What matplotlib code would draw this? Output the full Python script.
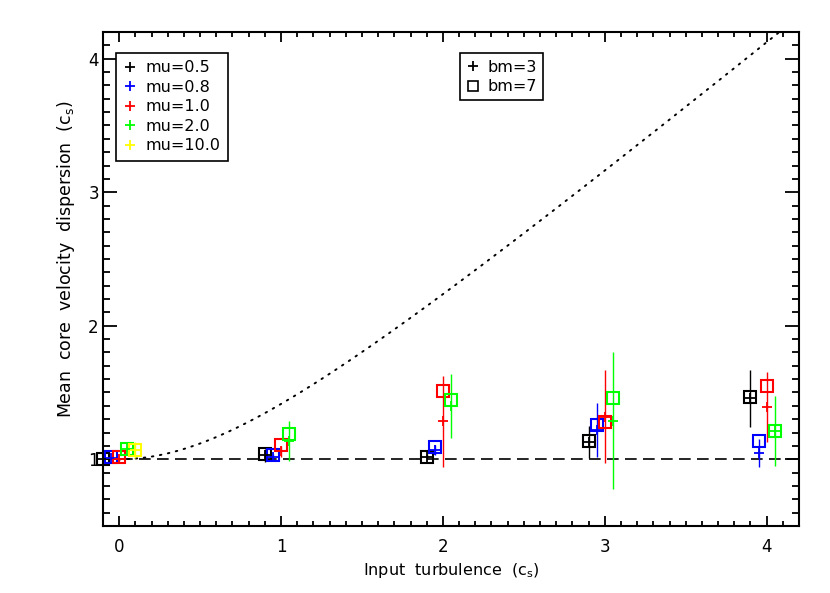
import numpy as np
import matplotlib
matplotlib.use("Agg")
import matplotlib.pyplot as plt
from matplotlib.lines import Line2D
from matplotlib.ticker import MultipleLocator

# input turbulence levels (c_s)
turb = [0, 1, 2, 3, 4]

mu_labels = ["mu=0.5", "mu=0.8", "mu=1.0", "mu=2.0", "mu=10.0"]
mu_colors = ["#000000", "#0000ff", "#ff0000", "#00ff00", "#ffff00"]
mu_shift = [-0.1, -0.05, 0.0, 0.05, 0.1]

# bm=3 runs (plus signs) with error bars
bm3_mean = [
    [1.00, 1.03, 1.02, 1.13, 1.455],   # mu=0.5
    [1.01, 1.02, 1.07, 1.22, 1.045],   # mu=0.8
    [1.00, 1.06, 1.285, 1.32, 1.39],   # mu=1.0
    [1.08, 1.14, 1.40, 1.29, 1.21],    # mu=2.0
    [1.07],                            # mu=10.0
]
bm3_err = [
    [0.01, 0.05, 0.02, 0.12, 0.215],
    [0.01, 0.02, 0.04, 0.20, 0.105],
    [0.01, 0.04, 0.34, 0.35, 0.26],
    [0.02, 0.15, 0.24, 0.51, 0.26],
    [0.06],
]

# bm=7 runs (squares)
bm7_mean = [
    [1.00, 1.04, 1.02, 1.135, 1.465],
    [1.015, 1.03, 1.09, 1.255, 1.14],
    [1.02, 1.11, 1.51, 1.28, 1.55],
    [1.08, 1.19, 1.44, 1.46, 1.21],
    [1.07],
]

plt.rcParams["font.family"] = ["DejaVu Sans"]

fig = plt.figure(figsize=(8.3, 5.93), dpi=100)
ax = fig.add_axes([103 / 830, 1 - 526 / 593, 696 / 830, 494 / 593])

# reference curves
xc = np.linspace(-0.1, 4.2, 400)
ax.plot(xc, np.sqrt(1 + xc ** 2), color="black", lw=1.4,
        linestyle=(0, (0.8, 3.4)), dash_capstyle="round")
ax.axhline(1.0, color="black", lw=1.2, linestyle=(0, (7, 3.8)))

for i in range(len(mu_labels)):
    n = len(bm3_mean[i])
    xs = np.array(turb[:n]) + mu_shift[i]
    c = mu_colors[i]
    ax.errorbar(xs, bm3_mean[i], yerr=bm3_err[i], fmt="none", ecolor=c,
                elinewidth=1.0, capsize=0, clip_on=False, zorder=3)
    ax.plot(xs, bm7_mean[i], linestyle="none", marker="s", ms=8.5,
            mfc="none", mec=c, mew=1.5, clip_on=False, zorder=4)
    ax.plot(xs, bm3_mean[i], linestyle="none", marker="+", ms=7.5,
            color=c, mew=1.3, clip_on=False, zorder=5)

ax.set_xlim(-0.1, 4.2)
ax.set_ylim(0.5, 4.2)
ax.xaxis.set_major_locator(MultipleLocator(1))
ax.xaxis.set_minor_locator(MultipleLocator(0.1))
ax.yaxis.set_major_locator(MultipleLocator(1))
ax.yaxis.set_minor_locator(MultipleLocator(0.1))

for s in ax.spines.values():
    s.set_linewidth(1.5)
ax.tick_params(axis="x", which="major", direction="in", length=7.5, width=1.3,
               top=True, labelsize=12, pad=9)
ax.tick_params(axis="x", which="minor", direction="in", length=3.8, width=1.3,
               top=True)
ax.tick_params(axis="y", which="major", direction="in", length=10, width=1.3,
               right=True, labelsize=12, pad=3)
ax.tick_params(axis="y", which="minor", direction="in", length=5, width=1.3,
               right=True)

ax.set_xlabel("Input  turbulence  (c$_\\mathregular{s}$)", fontsize=11.5,
              labelpad=3)
ax.set_ylabel("Mean  core  velocity  dispersion  (c$_\\mathregular{s}$)",
              fontsize=12.5)
ax.yaxis.set_label_coords(-0.037, 0.54)

mu_handles = [Line2D([], [], linestyle="none", marker="+", ms=7.5, mew=1.3,
                     color=c) for c in mu_colors]
leg1 = ax.legend(mu_handles, mu_labels, loc="upper left",
                 bbox_to_anchor=(0.019, 0.957), borderaxespad=0,
                 fancybox=False, edgecolor="black", framealpha=1,
                 fontsize=11.5, handlelength=0.8, handletextpad=0.6,
                 labelspacing=0.28, borderpad=0.45)
leg1.get_frame().set_linewidth(1.2)
ax.add_artist(leg1)

bm_handles = [
    Line2D([], [], linestyle="none", marker="+", ms=7.5, mew=1.3, color="black"),
    Line2D([], [], linestyle="none", marker="s", ms=7, mfc="none", mec="black",
           mew=1.2),
]
leg2 = ax.legend(bm_handles, ["bm=3", "bm=7"], loc="upper center",
                 bbox_to_anchor=(0.573, 0.957), borderaxespad=0,
                 fancybox=False, edgecolor="black", framealpha=1,
                 fontsize=11.5, handlelength=0.8, handletextpad=0.5,
                 labelspacing=0.28, borderpad=0.4)
leg2.get_frame().set_linewidth(1.2)

fig.savefig("out.png", dpi=100)
